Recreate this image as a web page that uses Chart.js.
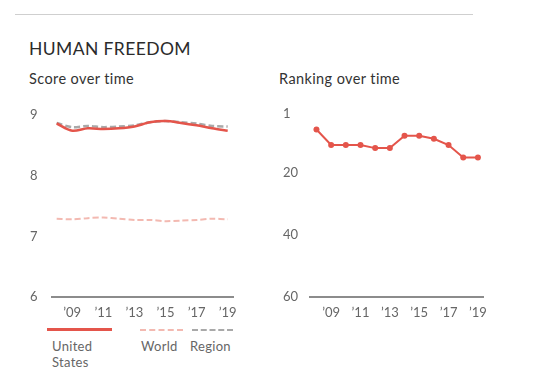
<!DOCTYPE html>
<html>
<head>
<meta charset="utf-8">
<script src="https://cdn.jsdelivr.net/npm/chart.js@4"></script>
<style>
  body { margin: 0; background: #fff; font-family: Lato, "Open Sans", sans-serif; color: #333; }
  #wrap { position: relative; width: 550px; height: 390px; }
  .rule { position: absolute; left: 15px; top: 14px; width: 458px; height: 1px; background: #cfcfcf; }
  .title { position: absolute; left: 29px; top: 38px; font-size: 17.5px; letter-spacing: 0.4px; color: #2b2b2b; }
  .sub { position: absolute; top: 70px; font-size: 14.5px; letter-spacing: 0.4px; color: #333; }
  .box { position: absolute; width: 225px; height: 225px; }
  .leg { position: absolute; font-size: 13px; letter-spacing: 0.3px; color: #666; line-height: 16px; }
  .sw { position: absolute; height: 0; }
</style>
</head>
<body>
<div id="wrap">
  <div class="rule"></div>
  <div class="title">HUMAN FREEDOM</div>
  <div class="sub" style="left:29px">Score over time</div>
  <div class="sub" style="left:279px">Ranking over time</div>
  <div class="box" style="left:20px;top:100px"><canvas id="scoreChart"></canvas></div>
  <div class="box" style="left:270px;top:100px"><canvas id="rankChart"></canvas></div>

  <div class="sw" style="left:47px;top:328px;width:65px;border-top:3px solid #e4554b"></div>
  <div class="sw" style="left:140px;top:329px;width:43px;border-top:2px dashed #f3b9b1"></div>
  <div class="sw" style="left:192px;top:329px;width:41px;border-top:2px dashed #a9a9a9"></div>
  <div class="leg" style="left:52px;top:338px">United<br>States</div>
  <div class="leg" style="left:141px;top:338px">World</div>
  <div class="leg" style="left:190px;top:338px">Region</div>
</div>

<script>
var years = [2008, 2009, 2010, 2011, 2012, 2013, 2014, 2015, 2016, 2017, 2018, 2019];
var usScore = [8.86, 8.74, 8.78, 8.77, 8.78, 8.81, 8.88, 8.90, 8.87, 8.83, 8.78, 8.74];
var regionScore = [8.87, 8.80, 8.82, 8.80, 8.81, 8.83, 8.88, 8.90, 8.88, 8.86, 8.82, 8.81];
var worldScore = [7.29, 7.28, 7.30, 7.31, 7.29, 7.27, 7.27, 7.25, 7.26, 7.27, 7.29, 7.28];
var usRank = [6, 11, 11, 11, 12, 12, 8, 8, 9, 11, 15, 15];
var xTicks = [2009, 2011, 2013, 2015, 2017, 2019];
var scoreTicks = [6, 7, 8, 9];
var rankTicks = [1, 20, 40, 60];

var red = '#e4554b';
var tickFont = { family: 'Lato, "Open Sans", sans-serif', size: 13 };

function pts(vals) {
  return years.map(function(y, i) { return { x: y, y: vals[i] }; });
}

function xAxis(min, max) {
  return {
    type: 'linear',
    min: min,
    max: max,
    grid: { display: false, drawTicks: false },
    border: { display: true, color: '#8c8c8c', width: 2 },
    afterBuildTicks: function(s) { s.ticks = xTicks.map(function(v) { return { value: v }; }); },
    afterFit: function(s) { s.height = 28; },
    ticks: {
      color: '#666',
      font: tickFont,
      padding: 8,
      maxRotation: 0,
      callback: function(v) { return '\u2019' + String(v).slice(2); }
    }
  };
}

function yAxis(min, max, ticks, width, reverse) {
  return {
    min: min,
    max: max,
    reverse: reverse,
    grid: { display: false, drawTicks: false },
    border: { display: false },
    afterBuildTicks: function(s) { s.ticks = ticks.map(function(v) { return { value: v }; }); },
    afterFit: function(s) { s.width = width; },
    ticks: { color: '#666', font: tickFont, crossAlign: 'far', padding: 0 }
  };
}

new Chart(document.getElementById('scoreChart'), {
  type: 'line',
  data: {
    datasets: [
      { label: 'United States', data: pts(usScore), borderColor: red, borderWidth: 2.5, pointRadius: 0, tension: 0.3, order: 0 },
      { label: 'Region', data: pts(regionScore), borderColor: '#a9a9a9', borderWidth: 2.5, borderDash: [6, 3], pointRadius: 0, tension: 0.3, order: 1 },
      { label: 'World', data: pts(worldScore), borderColor: '#f3b9b1', borderWidth: 2, borderDash: [6, 3], pointRadius: 0, tension: 0.3, order: 2 }
    ]
  },
  options: {
    responsive: true,
    maintainAspectRatio: false,
    animation: false,
    layout: { padding: { left: 10, right: 11, top: 15, bottom: 0 } },
    plugins: { legend: { display: false }, tooltip: { enabled: false } },
    scales: {
      x: xAxis(2007.7, 2019.4),
      y: yAxis(6, 9, scoreTicks, 22, false)
    }
  }
});

new Chart(document.getElementById('rankChart'), {
  type: 'line',
  data: {
    datasets: [
      { label: 'United States', data: pts(usRank), borderColor: red, backgroundColor: red, borderWidth: 2, pointRadius: 3, pointBorderWidth: 0, tension: 0 }
    ]
  },
  options: {
    responsive: true,
    maintainAspectRatio: false,
    animation: false,
    layout: { padding: { left: 13, right: 5, top: 14, bottom: 0 } },
    plugins: { legend: { display: false }, tooltip: { enabled: false } },
    scales: {
      x: xAxis(2007.56, 2019.39),
      y: yAxis(1, 60, rankTicks, 27, true)
    }
  }
});
</script>
</body>
</html>
